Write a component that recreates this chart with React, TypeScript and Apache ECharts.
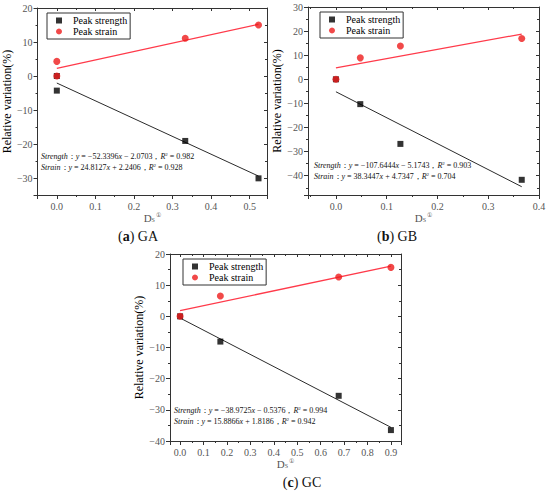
import React, { useEffect, useRef } from 'react';
import * as echarts from 'echarts';

// ---- data ----
const GA_STRENGTH = [[0, 0], [0, -4.3], [0.333, -19.1], [0.523, -30.1]];
const GA_STRAIN = [[0, 0], [0, 4.3], [0.333, 11.1], [0.523, 15]];
const GA_STRENGTH_FIT = [[0, -2.07], [0.523, -29.44]];
const GA_STRAIN_FIT = [[0, 2.24], [0.523, 15.22]];

const GB_STRENGTH = [[0, 0], [0.048, -10.3], [0.127, -26.8], [0.366, -41.7]];
const GB_STRAIN = [[0, 0], [0.048, 8.9], [0.127, 13.8], [0.366, 16.9]];
const GB_STRENGTH_FIT = [[0, -5.17], [0.366, -44.57]];
const GB_STRAIN_FIT = [[0, 4.73], [0.366, 18.77]];

const GC_STRENGTH = [[0, 0], [0.172, -8.1], [0.677, -25.5], [0.9, -36.5]];
const GC_STRAIN = [[0, 0], [0.172, 6.5], [0.677, 12.6], [0.9, 15.7]];
const GC_STRENGTH_FIT = [[0, -0.54], [0.9, -35.61]];
const GC_STRAIN_FIT = [[0, 1.82], [0.9, 16.12]];

const X_RANGES = [[-0.05, 0.545], [-0.055, 0.4], [-0.043, 0.943]];
const Y_RANGES = [[-35, 20], [-48, 30], [-40, 20]];
const X_SPLITS = [6, 5, 10];
const Y_SPLITS = [6, 8, 6];

const LEGEND_NAMES = ['Peak strength', 'Peak strain'];
const Y_TITLE = 'Relative variation(%)';
const CAPTIONS = [['a', 'GA'], ['b', 'GB'], ['c', 'GC']];
const EQ_STRENGTH = [
  ['−52.3396', '− 2.0703', '0.982'],
  ['−107.6444', '− 5.1743', '0.903'],
  ['−38.9725', '− 0.5376', '0.994'],
];
const EQ_STRAIN = [
  ['24.8127', '+ 2.2406', '0.928'],
  ['38.3447', '+ 4.7347', '0.704'],
  ['15.8866', '+ 1.8186', '0.942'],
];

// ---- layout ----
const GRIDS = [
  { left: 33, top: 8, width: 234, height: 187 },
  { left: 308, top: 7, width: 231, height: 188 },
  { left: 170, top: 254, width: 231, height: 187 },
];
const LEGEND_POS = [[47, 13], [320, 12], [183, 259]];
const EQ_POS = [[41, 157], [314, 166], [174, 411]];
const CAPTION_POS = [[138, 236], [397, 236], [302, 482]];

const SERIF = "'Liberation Serif', 'Times New Roman', serif";
const AXIS = '#333';
const LABEL = '#555';

const isMult = (v: number, step: number) => Math.abs(v / step - Math.round(v / step)) < 1e-6;

export default function App() {
  const ref = useRef<HTMLDivElement>(null);
  useEffect(() => {
    if (!ref.current) return;
    const chart = echarts.init(ref.current, undefined, { renderer: 'svg' });

    const xAxis: any[] = [];
    const yAxis: any[] = [];
    GRIDS.forEach((_, i) => {
      const xc = {
        type: 'value', gridIndex: i, min: X_RANGES[i][0], max: X_RANGES[i][1], splitNumber: X_SPLITS[i],
        splitLine: { show: false },
        axisLine: { show: true, onZero: false, lineStyle: { color: AXIS, width: 1 } },
      };
      xAxis.push({
        ...xc, position: 'bottom',
        axisTick: { show: true, inside: false, length: 4, lineStyle: { color: AXIS } },
        minorTick: { show: true, splitNumber: 2, length: 2, lineStyle: { color: AXIS } },
        axisLabel: {
          color: LABEL, fontFamily: SERIF, fontSize: 10, margin: 6,
          formatter: (v: number) => (isMult(v, 0.1) ? v.toFixed(1) : ''),
        },
        name: '{d|D}{s|S}{u|①}', nameLocation: 'middle', nameGap: 17,
        nameTextStyle: {
          color: LABEL, fontFamily: SERIF, fontSize: 11,
          rich: {
            d: { color: LABEL, fontFamily: SERIF, fontSize: 11 },
            s: { color: LABEL, fontFamily: SERIF, fontSize: 6, verticalAlign: 'bottom', padding: [4, 0, 0, 0] },
            u: { color: LABEL, fontSize: 6, verticalAlign: 'top', padding: [0, 0, 4, 1] },
          },
        },
      });
      xAxis.push({
        ...xc, position: 'top',
        axisTick: { show: true, inside: true, length: 3, lineStyle: { color: AXIS } },
        minorTick: { show: true, splitNumber: 2, length: 2, lineStyle: { color: AXIS } },
        axisLabel: { show: false },
      });
      const yc = {
        type: 'value', gridIndex: i, min: Y_RANGES[i][0], max: Y_RANGES[i][1], splitNumber: Y_SPLITS[i],
        splitLine: { show: false },
        axisLine: { show: true, onZero: false, lineStyle: { color: AXIS, width: 1 } },
      };
      yAxis.push({
        ...yc, position: 'left',
        axisTick: { show: true, inside: false, length: 4, lineStyle: { color: AXIS } },
        minorTick: { show: true, splitNumber: 2, length: 2, lineStyle: { color: AXIS } },
        axisLabel: {
          color: LABEL, fontFamily: SERIF, fontSize: 10, margin: 5,
          formatter: (v: number) => (isMult(v, 10) ? String(Math.round(v)).replace('-', '−') : ''),
        },
        name: Y_TITLE, nameLocation: 'middle', nameGap: 18,
        nameTextStyle: { color: '#000', fontFamily: SERIF, fontSize: 12 },
      });
      yAxis.push({
        ...yc, position: 'right',
        axisTick: { show: true, inside: true, length: 3, lineStyle: { color: AXIS } },
        minorTick: { show: true, splitNumber: 2, length: 2, lineStyle: { color: AXIS } },
        axisLabel: { show: false },
      });
    });

    const sets = [
      [GA_STRENGTH, GA_STRAIN, GA_STRENGTH_FIT, GA_STRAIN_FIT],
      [GB_STRENGTH, GB_STRAIN, GB_STRENGTH_FIT, GB_STRAIN_FIT],
      [GC_STRENGTH, GC_STRAIN, GC_STRENGTH_FIT, GC_STRAIN_FIT],
    ];
    const series: any[] = [];
    sets.forEach((s, i) => {
      const ax = { xAxisIndex: 2 * i, yAxisIndex: 2 * i };
      series.push({
        type: 'line', name: 'strength fit ' + i, ...ax, data: s[2], symbol: 'none', silent: true,
        lineStyle: { color: '#2b2b2b', width: 1 }, z: 2,
      });
      series.push({
        type: 'line', name: 'strain fit ' + i, ...ax, data: s[3], symbol: 'none', silent: true,
        lineStyle: { color: '#ff3a4a', width: 1.3 }, z: 2,
      });
      series.push({
        type: 'scatter', name: LEGEND_NAMES[0], ...ax, data: s[0], symbol: 'rect', symbolSize: 6,
        itemStyle: { color: '#000' }, z: 3,
      });
      series.push({
        type: 'scatter', name: LEGEND_NAMES[1], ...ax, data: s[1], symbol: 'circle', symbolSize: 7,
        itemStyle: { color: '#ee1c1c' }, z: 4,
      });
    });

    const legend = LEGEND_POS.map((p) => ({
      data: LEGEND_NAMES, left: p[0], top: p[1], orient: 'vertical',
      itemWidth: 6, itemHeight: 6, itemGap: 0, padding: [2, 3, 2, 9],
      borderColor: '#333', borderWidth: 1, selectedMode: false,
      textStyle: { fontFamily: SERIF, fontSize: 10, color: '#000', lineHeight: 11, padding: [0, 0, 0, 6] },
    }));

    const richEq = {
      i: { fontStyle: 'italic', fontFamily: SERIF, fontSize: 8, color: '#111' },
      s: { fontFamily: SERIF, fontSize: 5, verticalAlign: 'top', color: '#111' },
    };
    const graphic: any[] = [];
    GRIDS.forEach((_, i) => {
      const [ex, ey] = EQ_POS[i];
      const st = EQ_STRENGTH[i];
      const sn = EQ_STRAIN[i];
      graphic.push({
        type: 'text', left: ex, top: ey - 5, z: 10,
        style: {
          text: `{i|Strength}：{i|y} = ${st[0]}{i|x} ${st[1]}，{i|R}{s|2} = ${st[2]}`,
          rich: richEq, fontFamily: SERIF, fontSize: 8, fill: '#111',
        },
      });
      graphic.push({
        type: 'text', left: ex, top: ey + 6, z: 10,
        style: {
          text: `{i|Strain}：{i|y} = ${sn[0]}{i|x} ${sn[1]}，{i|R}{s|2} = ${sn[2]}`,
          rich: richEq, fontFamily: SERIF, fontSize: 8, fill: '#111',
        },
      });
      const [cx, cy] = CAPTION_POS[i];
      graphic.push({
        type: 'text', x: cx, y: cy, z: 10,
        style: {
          text: `({b|${CAPTIONS[i][0]}}) ${CAPTIONS[i][1]}`,
          align: 'center', verticalAlign: 'middle',
          fontFamily: SERIF, fontSize: 14, fill: '#111',
          rich: { b: { fontFamily: SERIF, fontSize: 14, fontWeight: 'bold', color: '#111' } },
        },
      });
    });

    chart.setOption({
      animation: false,
      backgroundColor: '#fff',
      grid: GRIDS,
      xAxis,
      yAxis,
      legend,
      series,
      graphic,
    });
    return () => chart.dispose();
  }, []);
  return (
    <div
      ref={ref}
      style={{ position: 'fixed', left: 0, top: 0, width: 550, height: 494, background: '#fff' }}
    />
  );
}
